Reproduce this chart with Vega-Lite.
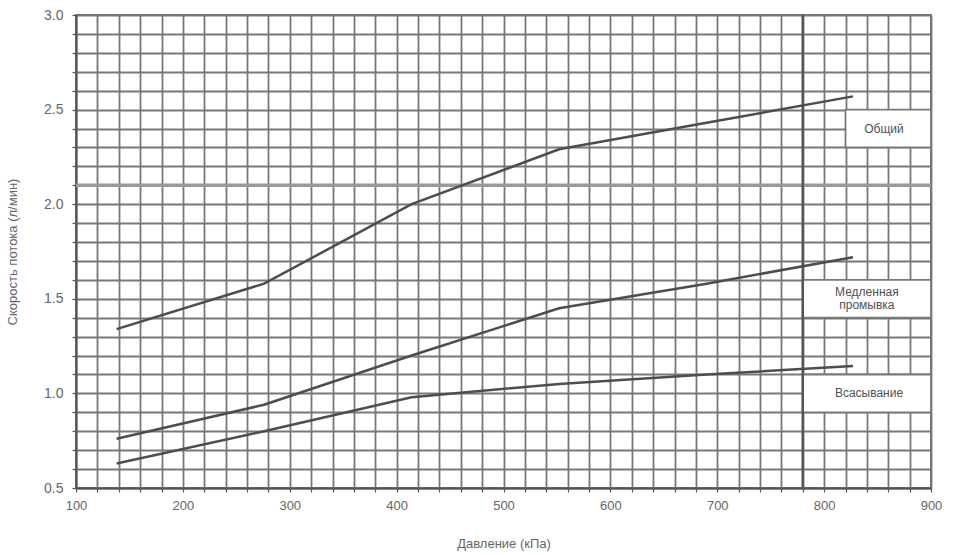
{
  "$schema": "https://vega.github.io/schema/vega-lite/v6.json",
  "width": 855,
  "height": 473,
  "autosize": {"type": "none"},
  "padding": {"left": 76, "top": 15, "right": 23, "bottom": 68},
  "background": "white",
  "config": {
    "font": "Liberation Sans",
    "view": {"stroke": "#6a6a6a", "strokeWidth": 2}
  },
  "datasets": {
    "lines": [
      {"series": "Общий", "x": 138, "y": 1.34},
      {"series": "Общий", "x": 276, "y": 1.58},
      {"series": "Общий", "x": 414, "y": 2.0},
      {"series": "Общий", "x": 552, "y": 2.29},
      {"series": "Общий", "x": 690, "y": 2.43},
      {"series": "Общий", "x": 827, "y": 2.57},
      {"series": "Медленная промывка", "x": 138, "y": 0.76},
      {"series": "Медленная промывка", "x": 276, "y": 0.94},
      {"series": "Медленная промывка", "x": 414, "y": 1.2},
      {"series": "Медленная промывка", "x": 552, "y": 1.45},
      {"series": "Медленная промывка", "x": 690, "y": 1.58},
      {"series": "Медленная промывка", "x": 827, "y": 1.72},
      {"series": "Всасывание", "x": 138, "y": 0.63},
      {"series": "Всасывание", "x": 276, "y": 0.8},
      {"series": "Всасывание", "x": 414, "y": 0.98},
      {"series": "Всасывание", "x": 552, "y": 1.05},
      {"series": "Всасывание", "x": 690, "y": 1.1},
      {"series": "Всасывание", "x": 827, "y": 1.145}
    ],
    "boxes": [
      {"x": 820, "x2": 900, "y": 2.3, "y2": 2.5},
      {"x": 780, "x2": 900, "y": 1.4, "y2": 1.6},
      {"x": 780, "x2": 900, "y": 0.9, "y2": 1.1}
    ],
    "labels": [
      {"x": 856, "y": 2.4, "text": "Общий"},
      {"x": 840, "y": 1.535, "text": "Медленная\nпромывка"},
      {"x": 842, "y": 1.0, "text": "Всасывание"}
    ],
    "hrule": [{"x": 100, "x2": 900, "y": 2.1}],
    "vrule": [{"x": 780, "y": 0.5, "y2": 3.0}]
  },
  "encoding": {
    "x": {
      "field": "x",
      "type": "quantitative",
      "scale": {"domain": [100, 900], "nice": false, "zero": false},
      "axis": {
        "title": "Давление (кПа)",
        "values": [100,120,140,160,180,200,220,240,260,280,300,320,340,360,380,400,420,440,460,480,500,520,540,560,580,600,620,640,660,680,700,720,740,760,780,800,820,840,860,880,900],
        "labelExpr": "datum.value % 100 === 0 ? datum.label : ''",
        "grid": true,
        "gridColor": "#787878",
        "gridWidth": 1.8,
        "gridOpacity": 1,
        "domainColor": "#555555",
        "domainWidth": 2,
        "tickColor": "#555555",
        "tickSize": 4,
        "tickWidth": 1.2,
        "labelColor": "#666666",
        "labelFontSize": 13,
        "labelPadding": 7,
        "labelFlush": false,
        "labelOverlap": false,
        "titleColor": "#666666",
        "titleFontSize": 13,
        "titleFontWeight": "normal",
        "titlePadding": 25
      }
    },
    "y": {
      "field": "y",
      "type": "quantitative",
      "scale": {"domain": [0.5, 3.0], "nice": false, "zero": false},
      "axis": {
        "title": "Скорость потока (л/мин)",
        "values": [0.5,0.6,0.7,0.8,0.9,1.0,1.1,1.2,1.3,1.4,1.5,1.6,1.7,1.8,1.9,2.0,2.1,2.2,2.3,2.4,2.5,2.6,2.7,2.8,2.9,3.0],
        "labelExpr": "round(datum.value*10) % 5 === 0 ? format(datum.value, '.1f') : ''",
        "grid": true,
        "gridColor": "#787878",
        "gridWidth": 1.8,
        "gridOpacity": 1,
        "domainColor": "#555555",
        "domainWidth": 2,
        "tickColor": "#555555",
        "tickSize": 4,
        "tickWidth": 1.2,
        "labelColor": "#666666",
        "labelFontSize": 14,
        "labelPadding": 9,
        "labelFlush": false,
        "labelOverlap": false,
        "titleColor": "#666666",
        "titleFontSize": 13,
        "titleFontWeight": "normal",
        "titlePadding": 24
      }
    }
  },
  "layer": [
    {
      "data": {"name": "boxes"},
      "mark": {"type": "rect", "fill": "white", "stroke": "#787878", "strokeWidth": 1.8},
      "encoding": {
        "x2": {"field": "x2"},
        "y2": {"field": "y2"}
      }
    },
    {
      "data": {"name": "hrule"},
      "mark": {"type": "rule", "color": "#9a9a9a", "strokeWidth": 3.5},
      "encoding": {
        "x2": {"field": "x2"}
      }
    },
    {
      "data": {"name": "vrule"},
      "mark": {"type": "rule", "color": "#555555", "strokeWidth": 2.5},
      "encoding": {
        "y2": {"field": "y2"}
      }
    },
    {
      "data": {"name": "lines"},
      "mark": {"type": "line", "color": "#4d4d4d", "strokeWidth": 2.5},
      "encoding": {
        "detail": {"field": "series", "type": "nominal"}
      }
    },
    {
      "data": {"name": "labels"},
      "mark": {"type": "text", "color": "#505050", "fontSize": 12, "align": "center", "baseline": "middle", "lineBreak": "\n", "lineHeight": 13},
      "encoding": {
        "text": {"field": "text", "type": "nominal"}
      }
    }
  ]
}
